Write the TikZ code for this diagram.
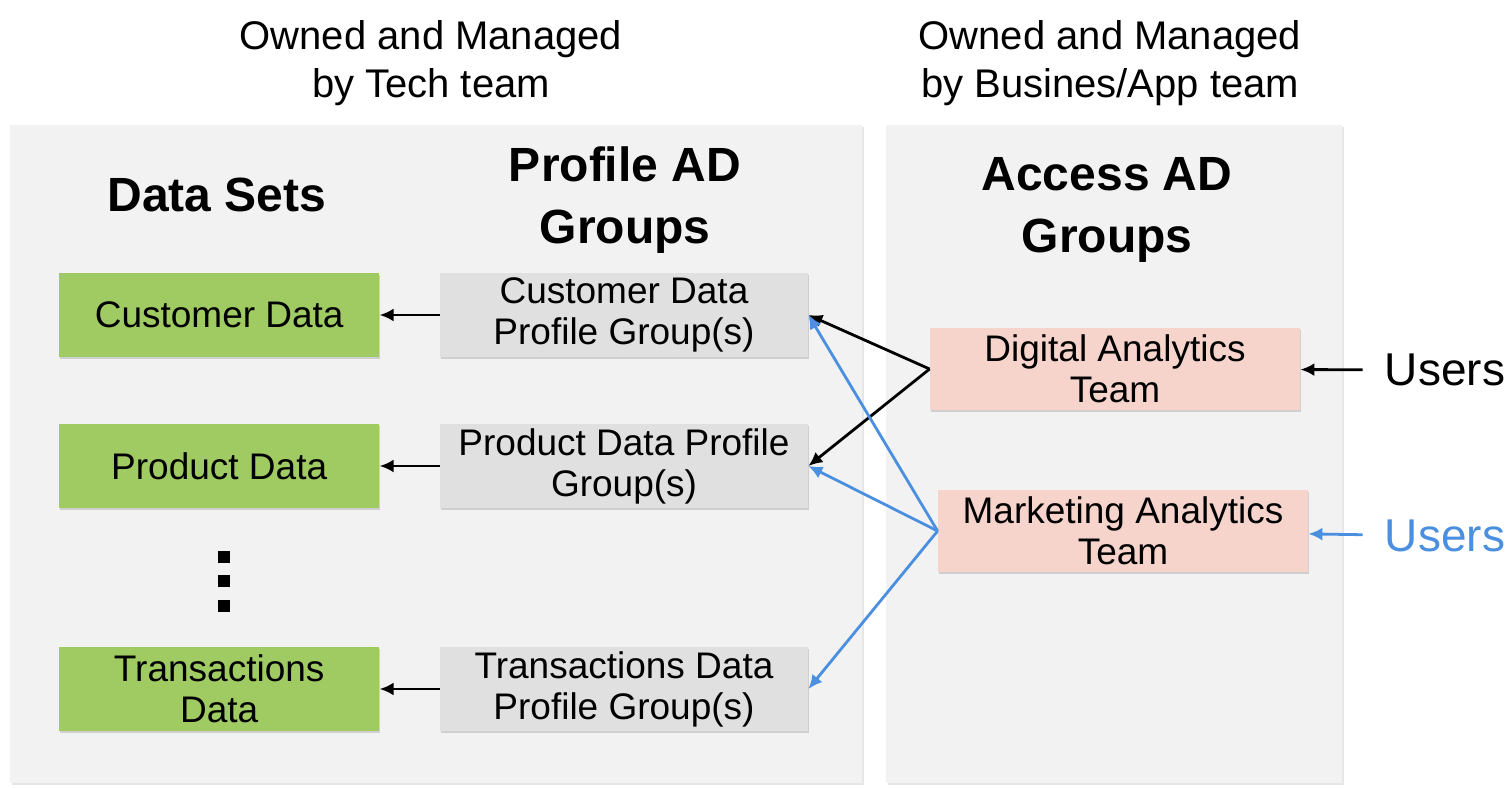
\documentclass[tikz,border=0pt]{standalone}
\usepackage{fontspec}
\setmainfont{Liberation Sans}
\usepackage{xcolor}
\usepackage{tikz}
\usetikzlibrary{arrows.meta, positioning, shadows}

\definecolor{paneGray}{HTML}{F2F2F2}
\definecolor{setGreen}{HTML}{9FCB62}
\definecolor{groupGray}{HTML}{E0E0E0}
\definecolor{teamPink}{HTML}{F6D4CC}
\definecolor{userBlue}{HTML}{4A8FE0}

\begin{document}
\begin{tikzpicture}[
    x=0.5pt, y=-0.5pt,
    node distance=30pt,
    panel/.style={fill=paneGray, drop shadow={shadow xshift=0.8pt, shadow yshift=-0.8pt, opacity=0.2}},
    box/.style={rectangle, minimum height=42pt, inner sep=1pt, align=center, font=\fontsize{18.5}{20.5}\selectfont, drop shadow={shadow xshift=0.3pt, shadow yshift=-1.2pt, opacity=0.3}},
    dataset/.style={box, fill=setGreen, minimum width=160pt},
    profile/.style={box, fill=groupGray, minimum width=184pt},
    team/.style={box, fill=teamPink, minimum width=185pt, minimum height=41pt},
    title/.style={align=center, font=\fontsize{24}{31}\selectfont\bfseries},
    owner/.style={align=center, font=\fontsize{20}{24}\selectfont},
    users/.style={inner xsep=11pt, font=\fontsize{23}{26}\selectfont},
    arrow/.style={-{Latex[length=7pt, width=6.5pt]}, line width=1.4pt},
    bluearrow/.style={arrow, draw=userBlue, fill=userBlue}
]
\useasboundingbox (0,0) rectangle (1512,788);

% panels
\fill[panel] (10,125) rectangle (862,783);
\fill[panel] (886,125) rectangle (1342,783);

% headers
\node[owner] (techowner) at (431,63) {Owned and Managed\\by Tech team};
\node[owner] (bizowner) at (1110,63) {Owned and Managed\\by Busines/App team};
\node[title] (setstitle) at (217,195) {Data Sets};
\node[title] (proftitle) at (625,200) {Profile AD\\Groups};
\node[title] (accesstitle) at (1107,210) {Access AD\\Groups};

% profile groups and data sets
\node[profile] (custprof) at (624,315) {Customer Data\\Profile Group(s)};
\node[profile] (prodprof) at (624,466) {Product Data Profile\\Group(s)};
\node[profile] (transprof) at (624,689) {Transactions Data\\Profile Group(s)};
\node[dataset, left=of custprof] (custdata) {Customer Data};
\node[dataset, left=of prodprof] (proddata) {Product Data};
\node[dataset, left=of transprof] (transdata) {Transactions\\Data};

% vertical dots
\foreach \dy in {557,581,606}
    \fill (218,{\dy-6}) rectangle ++(12,12);

% access groups
\node[team] (digital) at (1115,369) {Digital Analytics\\Team};
\node[team] (marketing) at (1123,531) {Marketing Analytics\\Team};
\node[users] (digusers) at (1445,370) {Users};
\node[users, text=userBlue] (mktusers) at (1445,536) {Users};

\draw[arrow] (custprof) -- (custdata);
\draw[arrow] (prodprof) -- (proddata);
\draw[arrow] (transprof) -- (transdata);

\draw[arrow] (digital.west) -- (custprof.east);
\draw[arrow] (digital.west) -- (prodprof.east);
\draw[bluearrow] (marketing.west) -- (custprof.east);
\draw[bluearrow] (marketing.west) -- (prodprof.east);
\draw[bluearrow] (marketing.west) -- (transprof.east);

\draw[arrow] (digusers) -- (digital);
\draw[bluearrow] (mktusers) -- (marketing);
\end{tikzpicture}
\end{document}
